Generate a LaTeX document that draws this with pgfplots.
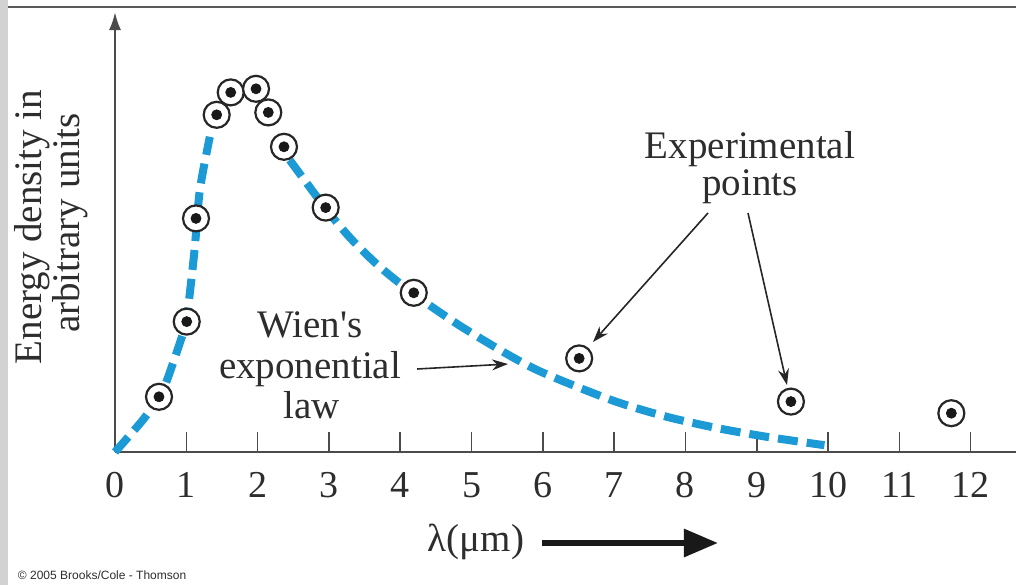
\documentclass[border=0pt]{standalone}
\usepackage{pgfplots}
\pgfplotsset{compat=1.18}
\usepackage{fontspec}
\setmainfont{Liberation Serif}
\newfontfamily\crfont{Liberation Sans}
\usetikzlibrary{arrows.meta}
\definecolor{wienblue}{RGB}{28,154,214}
\definecolor{axisgray}{RGB}{75,75,75}
\definecolor{txt}{RGB}{45,45,45}

\begin{document}
\begin{tikzpicture}
\begin{axis}[
  x=35.65pt, y=20pt,
  xmin=0, xmax=12.637, ymin=0, ymax=11.0,
  axis x line*=bottom, axis y line=left,
  x axis line style={line width=1.2pt, axisgray},
  y axis line style={line width=1.2pt, axisgray, -{Latex[length=9pt,width=6pt]}},
  xtick={0,...,12}, ytick=\empty,
  tick align=inside, major tick length=10pt,
  xtick style={line width=0.8pt, axisgray},
  xticklabel style={font=\fontsize{19}{19}\selectfont, anchor=base, yshift=-22.5pt, text=txt},
  /pgf/number format/assume math mode=true,
  clip=false,
]
% frame of the screenshot
\fill[gray!35] (axis cs:-1.613,-3.325) rectangle (axis cs:-1.5,11.3);
\draw[gray!70!black, line width=0.7pt] (axis cs:-1.5,11.125) -- (axis cs:12.637,11.125);

% Wien's law, dashed
\addplot[wienblue, line width=4pt, dash pattern=on 10pt off 4.5pt, smooth, tension=0.5]
  coordinates {(0,0) (0.39,0.8) (0.62,1.38) (0.73,1.8) (0.91,2.73) (1.0,3.25)
               (1.05,3.98) (1.12,5.13) (1.19,6.55) (1.33,7.88)};
\addplot[wienblue, line width=4pt, dash pattern=on 10pt off 4.5pt, smooth, tension=0.5]
  coordinates {(2.45,7.3) (2.95,6.1) (3.3,5.35) (3.7,4.65) (4.19,3.95) (4.8,3.2)
               (5.4,2.55) (5.86,2.1) (6.34,1.73) (7.04,1.25) (7.74,0.88)
               (8.44,0.6) (9.14,0.38) (9.95,0.17)};

% experimental points
\addplot[only marks, mark=*, mark size=6.5pt,
  mark options={fill=white, draw=black!85, line width=1.1pt}]
  table {
x y
0.617 1.38
1.006 3.26
1.136 5.84
1.426 8.43
1.623 8.99
1.978 9.08
2.150 8.49
2.370 7.63
2.955 6.11
4.19 3.98
6.51 2.34
9.48 1.26
11.73 0.97
};
\addplot[only marks, mark=*, mark size=2.5pt, mark options={fill=black!90, draw=black!90}]
  table {
x y
0.617 1.38
1.006 3.26
1.136 5.84
1.426 8.43
1.623 8.99
1.978 9.08
2.150 8.49
2.370 7.63
2.955 6.11
4.19 3.98
6.51 2.34
9.48 1.26
11.73 0.97
};

% annotations
\begin{scope}[font=\fontsize{19.5}{19.5}\selectfont, text=txt]
\node[anchor=base] at (axis cs:8.906,7.35) {Experimental};
\node[anchor=base] at (axis cs:8.906,6.42) {points};
\node[anchor=base] at (axis cs:2.735,2.875) {Wien\textquotesingle s};
\node[anchor=base] at (axis cs:2.735,1.85) {exponential};
\node[anchor=base] at (axis cs:2.76,0.85) {law};
\node[anchor=base, rotate=90] at (axis cs:-1.03,5.625) {Energy density in};
\node[anchor=base, rotate=90] at (axis cs:-0.491,5.725) {arbitrary units};
\node[anchor=center] at (axis cs:5.063,-2.25) {λ(μm)};
\end{scope}
\draw[black!85, line width=0.8pt, -{Stealth[length=8pt,width=5.5pt]}]
  (axis cs:4.236,2.075) -- (axis cs:5.512,2.2);
\draw[black!85, line width=0.8pt, -{Stealth[length=8pt,width=5.5pt]}]
  (axis cs:8.317,5.975) -- (axis cs:6.704,2.75);
\draw[black!85, line width=0.8pt, -{Stealth[length=8pt,width=5.5pt]}]
  (axis cs:8.878,5.975) -- (axis cs:9.425,1.675);
\draw[black!90, line width=3pt, -{Triangle[length=17pt,width=13.5pt]}]
  (axis cs:5.989,-2.275) -- (axis cs:8.457,-2.275);
\node[anchor=west, font=\crfont\fontsize{6}{6}\selectfont, text=txt]
  at (axis cs:-1.46,-3.075) {© 2005 Brooks/Cole - Thomson};

\coordinate (BL) at (axis cs:-1.613,-3.325);
\coordinate (TR) at (axis cs:12.637,11.3);
\end{axis}
\pgfresetboundingbox
\path[use as bounding box] (BL) rectangle (TR);
\end{tikzpicture}
\end{document}
